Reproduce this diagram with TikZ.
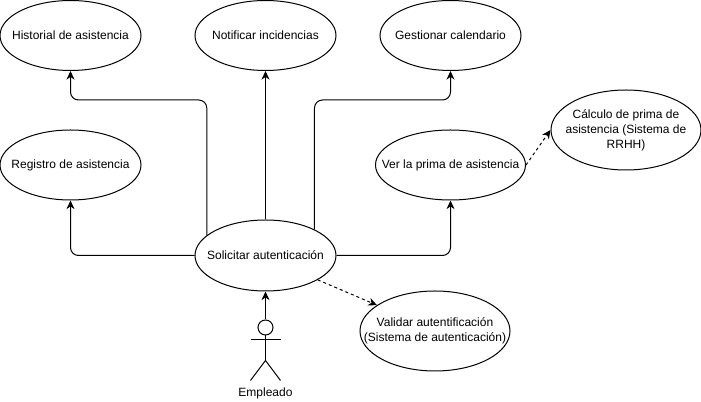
\documentclass[tikz,border=0pt]{standalone}
\usepackage{fontspec}
\setmainfont{Liberation Sans}
\usetikzlibrary{arrows.meta}
\usetikzlibrary{shapes.geometric}
\tikzset{
  usecase/.style={ellipse, draw=black, line width=0.75pt, inner xsep=-30pt, inner ysep=-6pt, align=center, font=\fontsize{9}{11.25}\selectfont},
  smallcase/.style={usecase, minimum width=105.75pt, minimum height=52.5pt},
  widecase/.style={usecase, minimum width=112.5pt, minimum height=60pt},
  link/.style={line width=0.75pt, -{Stealth[length=6.5pt,width=6pt]}, rounded corners=6pt},
  extlink/.style={line width=0.75pt, -{Stealth[length=6.5pt,width=6pt]}, dash pattern=on 2.25pt off 2.25pt},
  limb/.style={line width=0.75pt}
}
\begin{document}
\begin{tikzpicture}[x=0.75pt, y=-0.75pt]
    \useasboundingbox (0, 0) rectangle (701, 402);

    \node[smallcase] (historial) at (70.5, 35.5) {Historial de asistencia};
    \node[smallcase] (notificar) at (265.5, 35.5) {Notificar incidencias};
    \node[smallcase] (calendario) at (450.5, 35.5) {Gestionar calendario};
    \node[smallcase] (registro) at (70.5, 165) {Registro de asistencia};
    \node[smallcase, minimum width=112.5pt] (prima) at (450.5, 165) {Ver la prima de asistencia};
    \node[widecase] (calculo) at (626, 130) {Cálculo de prima de\\asistencia (Sistema de\\RRHH)};
    \node[smallcase, minimum height=53.25pt] (solicitar) at (265.5, 255.5) {Solicitar autenticación};
    \node[widecase] (validar) at (435, 331) {Validar autentificación\\(Sistema de autenticación)};

    % actor
    \node[circle, draw=black, limb, inner sep=0pt, minimum size=11.25pt] (head) at (265.5, 327.5) {};
    \coordinate (hip) at (265.5, 360.5);
    \coordinate (armL) at (250.5, 340);
    \coordinate (armR) at (280.5, 340);
    \coordinate (footL) at (250.5, 380.5);
    \coordinate (footR) at (280.5, 380.5);
    \node[font=\fontsize{9}{11.25}\selectfont] (empleado) at (265.5, 393) {Empleado};
    \draw[limb] (head) -- (hip);
    \draw[limb] (armL) -- (armR);
    \draw[limb] (footL) -- (hip) -- (footR);

    \coordinate (bendL) at (70.5, 100);
    \coordinate (bendR) at (450.5, 100);
    \draw[link] (head) -- (solicitar.south);
    \draw[link] (solicitar.west) -| (registro.south);
    \draw[link] (solicitar.east) -| (prima.south);
    \draw[link] (solicitar.north) -- (notificar.south);
    \draw[link] (solicitar.161) |- (bendL) -- (historial.south);
    \draw[link] (solicitar.28.5) |- (bendR) -- (calendario.south);
    \draw[extlink] (solicitar.-25.4) -- (validar.156.7);
    \draw[extlink] (prima.east) -- (calculo.west);
\end{tikzpicture}
\end{document}
